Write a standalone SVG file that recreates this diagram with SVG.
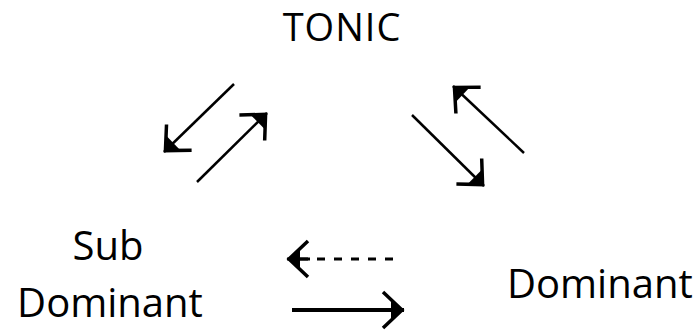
<svg xmlns="http://www.w3.org/2000/svg" width="700" height="331" viewBox="0 0 700 331">
<style>
.lbl{font-family:"Open Sans","Liberation Sans",sans-serif;font-size:40px;fill:#000}
.c{stroke:#000;stroke-width:2.5;fill:none}
.hd{fill:none;stroke:#000;stroke-width:3.5;stroke-linejoin:miter}
</style>
<defs>
<marker id="ah" viewBox="0 0 28 42" refX="24" refY="21" markerWidth="28" markerHeight="42" orient="auto" markerUnits="userSpaceOnUse" overflow="visible">
<path class="hd" d="M3,3 L22,21 L3,39"/>
<path d="M11,12 L24,21 L11,30 Z" fill="#000"/>
</marker>
</defs>
<rect width="700" height="331" fill="#fff"/>
<g id="tonic"><text class="lbl" x="342" y="41" text-anchor="middle" style="font-size:38px;letter-spacing:1px">TONIC</text></g>
<g id="subdominant"><text class="lbl" x="108" y="260" text-anchor="middle">Sub</text><text class="lbl" x="110" y="317" text-anchor="middle">Dominant</text></g>
<g id="dominant"><text class="lbl" x="507" y="298">Dominant</text></g>
<g id="connectors">
<line class="c" x1="234" y1="84" x2="164" y2="152" marker-end="url(#ah)"/>
<line class="c" x1="197" y1="182" x2="267" y2="113" marker-end="url(#ah)"/>
<line class="c" x1="524" y1="153" x2="453" y2="86" marker-end="url(#ah)"/>
<line class="c" x1="412" y1="115" x2="484" y2="186" marker-end="url(#ah)"/>
<line x1="393" y1="259" x2="287" y2="259" stroke="#000" stroke-width="3" stroke-dasharray="8,9" marker-end="url(#ah)"/>
<line x1="310" y1="259" x2="290" y2="259" stroke="#000" stroke-width="3"/>
<line x1="292" y1="310" x2="404" y2="310" stroke="#000" stroke-width="4" marker-end="url(#ah)"/>
</g>
</svg>
